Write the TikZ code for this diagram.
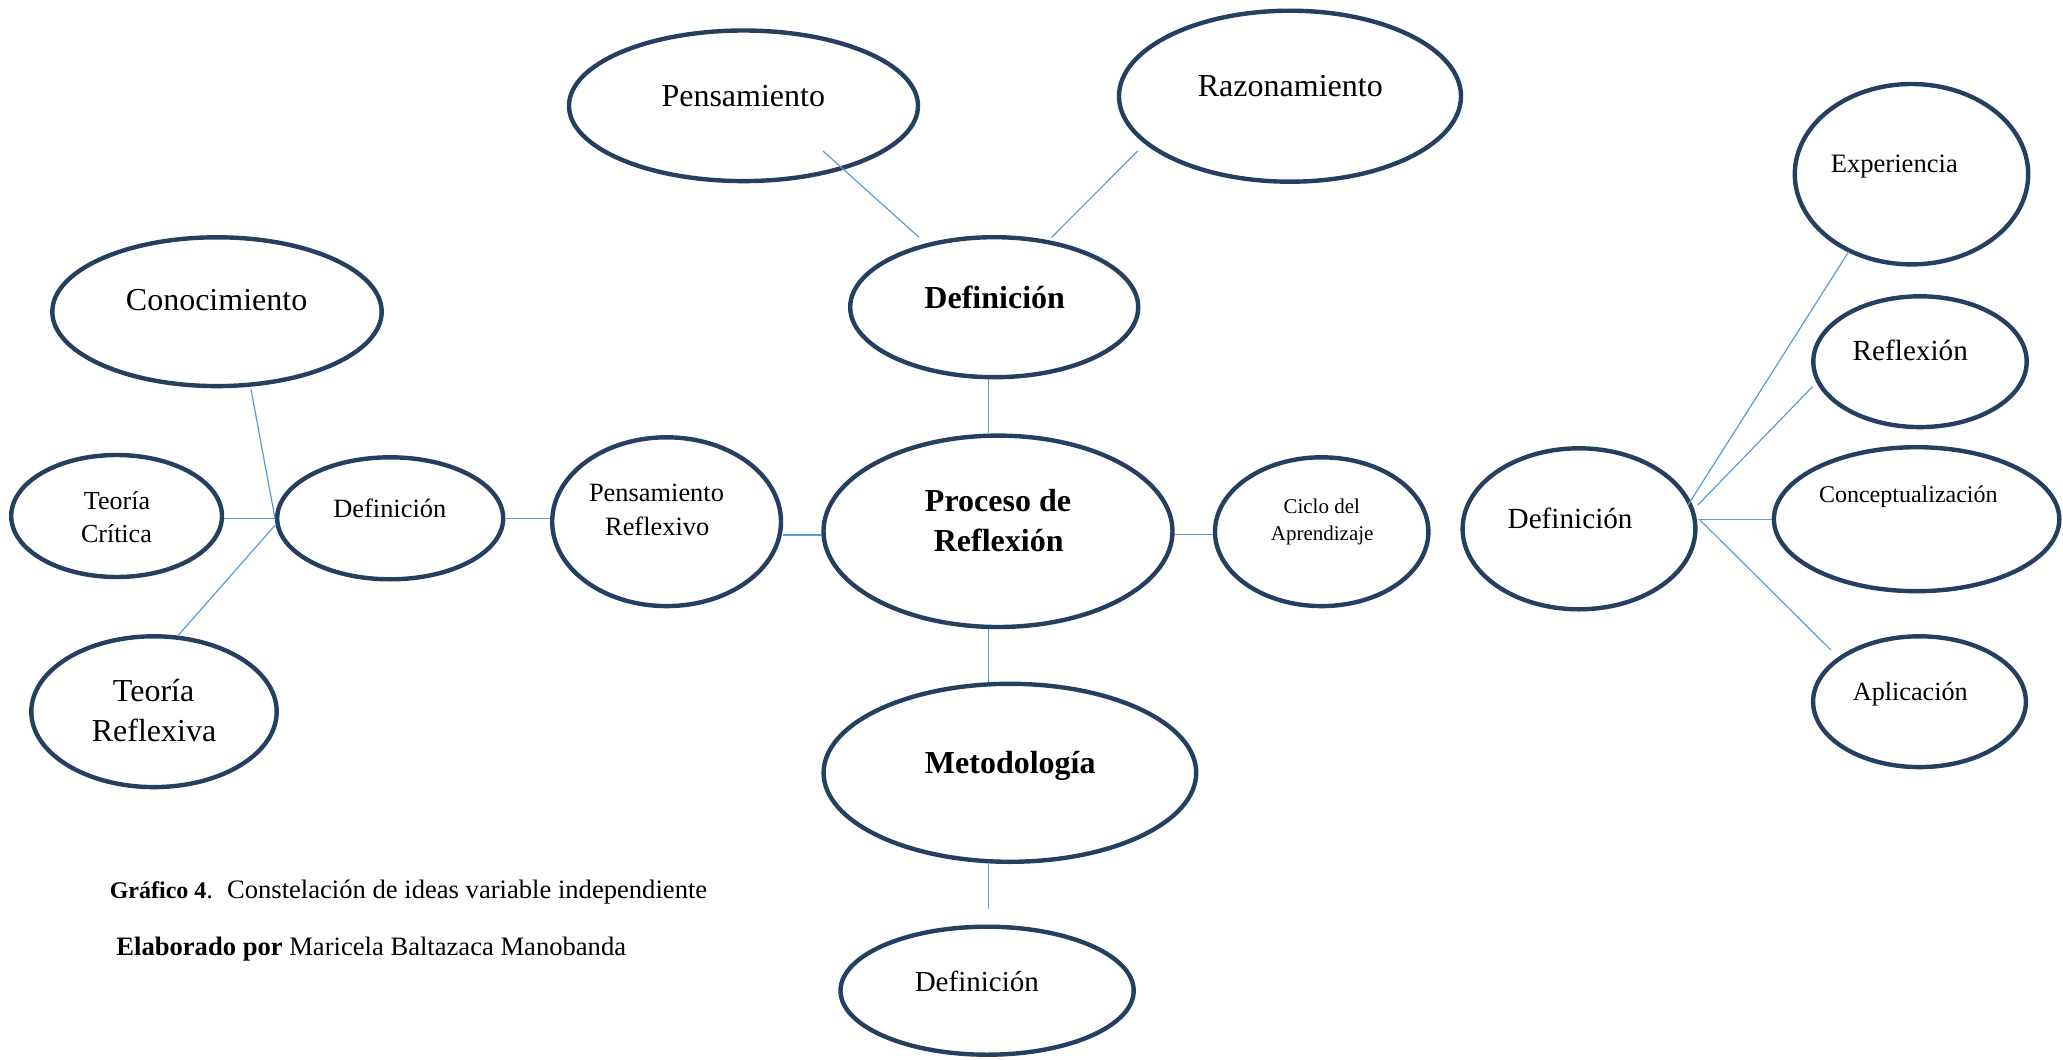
\documentclass[tikz,border=0pt]{standalone}
\usepackage{fontspec}
\setmainfont{Liberation Serif}
\usetikzlibrary{shapes.geometric,calc}
\definecolor{bubblecol}{HTML}{243F60}
\definecolor{linkcol}{HTML}{5B9BD5}
\newcommand{\fs}[1]{\fontsize{#1}{#1}\selectfont}
\tikzset{
  bubble/.style={ellipse, draw=bubblecol, line width=2.2pt, inner sep=0pt},
  link/.style={draw=linkcol, line width=0.6pt},
  lbl/.style={inner sep=0pt, anchor=base, text=black},
  capt/.style={inner sep=0pt, anchor=base west, text=black, font=\fs{13.3}},
}
\begin{document}
\begin{tikzpicture}[x=0.5pt,y=-0.5pt]
\useasboundingbox (0,0) rectangle (2063,1060);
% ellipses
\node[bubble, minimum width=174.5pt, minimum height=75.3pt] (pens) at (743.5,105.8) {};
\node[bubble, minimum width=171pt, minimum height=85.5pt] (raz) at (1290,96.2) {};
\node[bubble, minimum width=144pt, minimum height=70pt] (defT) at (994.2,307.2) {};
\node[bubble, minimum width=164.7pt, minimum height=74.4pt] (con) at (217,311.7) {};
\node[bubble, minimum width=105.4pt, minimum height=61pt] (tc) at (116.6,516) {};
\node[bubble, minimum width=113pt, minimum height=61pt] (defL) at (390.2,518.3) {};
\node[bubble, minimum width=114.4pt, minimum height=84.4pt] (pr) at (666.6,521.7) {};
\node[bubble, minimum width=174.5pt, minimum height=95.7pt] (proc) at (998,531.3) {};
\node[bubble, minimum width=106.7pt, minimum height=74.4pt] (ciclo) at (1321.7,531.7) {};
\node[bubble, minimum width=116.4pt, minimum height=80.5pt] (defR) at (1579,528.8) {};
\node[bubble, minimum width=116.7pt, minimum height=90.2pt] (exp) at (1911.5,174.2) {};
\node[bubble, minimum width=106.7pt, minimum height=65.4pt] (refl) at (1920,361.7) {};
\node[bubble, minimum width=142.7pt, minimum height=72pt] (conc) at (1916.6,519.2) {};
\node[bubble, minimum width=106.4pt, minimum height=65.4pt] (apl) at (1919.5,701.7) {};
\node[bubble, minimum width=122.7pt, minimum height=75.4pt] (tr) at (154,711.7) {};
\node[bubble, minimum width=186.3pt, minimum height=89pt] (met) at (1009.9,772.8) {};
\node[bubble, minimum width=146.6pt, minimum height=64pt] (defB) at (987.1,990.7) {};
% labels
\node[lbl, font=\fs{16}] (tPens) at (743.3,106.7) {Pensamiento};
\node[lbl, font=\fs{16}] (tRaz) at (1290.3,96.7) {Razonamiento};
\node[lbl, font=\fs{16}\bfseries] (tDefT) at (994.7,308.3) {Definición};
\node[lbl, font=\fs{16}] (tCon) at (216.6,310.7) {Conocimiento};
\node[lbl, font=\fs{13}] (tTc1) at (117,509.3) {Teoría};
\node[lbl, font=\fs{13}] (tTc2) at (116.4,542.7) {Crítica};
\node[lbl, font=\fs{13.2}] (tDefL) at (389.8,517.7) {Definición};
\node[lbl, font=\fs{13.2}] (tPr1) at (656.5,501.7) {Pensamiento};
\node[lbl, font=\fs{13.2}] (tPr2) at (657.2,535) {Reflexivo};
\node[lbl, font=\fs{16}\bfseries] (tProc1) at (998,511.7) {Proceso de};
\node[lbl, font=\fs{16}\bfseries] (tProc2) at (998.7,551.7) {Reflexión};
\node[lbl, font=\fs{10.5}] (tCic1) at (1321.7,513.3) {Ciclo del};
\node[lbl, font=\fs{10.5}] (tCic2) at (1322.2,540) {Aprendizaje};
\node[lbl, font=\fs{14.6}] (tDefR) at (1570.1,528.3) {Definición};
\node[lbl, font=\fs{13.3}] (tExp) at (1894.3,172.7) {Experiencia};
\node[lbl, font=\fs{14.6}] (tRefl) at (1910.3,360) {Reflexión};
\node[lbl, font=\fs{12}] (tConc) at (1908.3,502.3) {Conceptualización};
\node[lbl, font=\fs{13.1}] (tApl) at (1910.3,700) {Aplicación};
\node[lbl, font=\fs{16}] (tTr1) at (153.6,701.7) {Teoría};
\node[lbl, font=\fs{16}] (tTr2) at (154,741.7) {Reflexiva};
\node[lbl, font=\fs{16}\bfseries] (tMet) at (1010.3,773.3) {Metodología};
\node[lbl, font=\fs{14.5}] (tDefB) at (976.8,991.7) {Definición};
% captions
\node[capt] (cap1) at (109.4,898.3) {{\fs{12}\bfseries Gráfico 4}.\hspace{7pt}Constelación de ideas variable independiente};
\node[capt] (cap2) at (116,955) {\textbf{Elaborado por} Maricela Baltazaca Manobanda};
% helper coordinates
\coordinate (vx) at (988.7,0);
\coordinate (h1) at (0,535);
\coordinate (h2) at (0,534.3);
% connectors
\draw[link] ($(pens.center)+(79.5,45.2)$) -- ($(defT.center)+(-75.2,-69.9)$);
\draw[link] ($(raz.center)+(-152.2,54.8)$) -- ($(defT.center)+(57.4,-69.9)$);
\draw[link] (defT.south -| vx) -- (proc.north -| vx);
\draw[link] ($(con.center)+(34,77.6)$) -- (defL.west);
\draw[link] (tc.east |- defL.west) -- (defL.west);
\draw[link] ($(defL.west)+(0,7)$) -- ($(tr.center)+(23.7,-75.7)$);
\draw[link] (defL.east) -- (defL.east -| pr.west);
\draw[link] (pr.east |- h1) -- (proc.west |- h1);
\draw[link] (proc.east |- h2) -- (ciclo.west |- h2);
\draw[link] (proc.south -| vx) -- (met.north -| vx);
\coordinate (mEnd) at ($(defB.north -| vx)+(0,-16)$);
\draw[link] (met.south -| vx) -- (mEnd);
\draw[link] ($(defR.center)+(109,-23.8)$) -- ($(exp.center)+(-62.8,77.5)$);
\draw[link] ($(defR.center)+(118.8,-23.8)$) -- ($(refl.center)+(-107.5,25)$);
\draw[link] (conc.west -| defR.east) -- (conc.west);
\draw[link] ($(defR.center)+(121,-8.8)$) -- ($(apl.center)+(-88.6,-51.7)$);
\end{tikzpicture}
\end{document}
